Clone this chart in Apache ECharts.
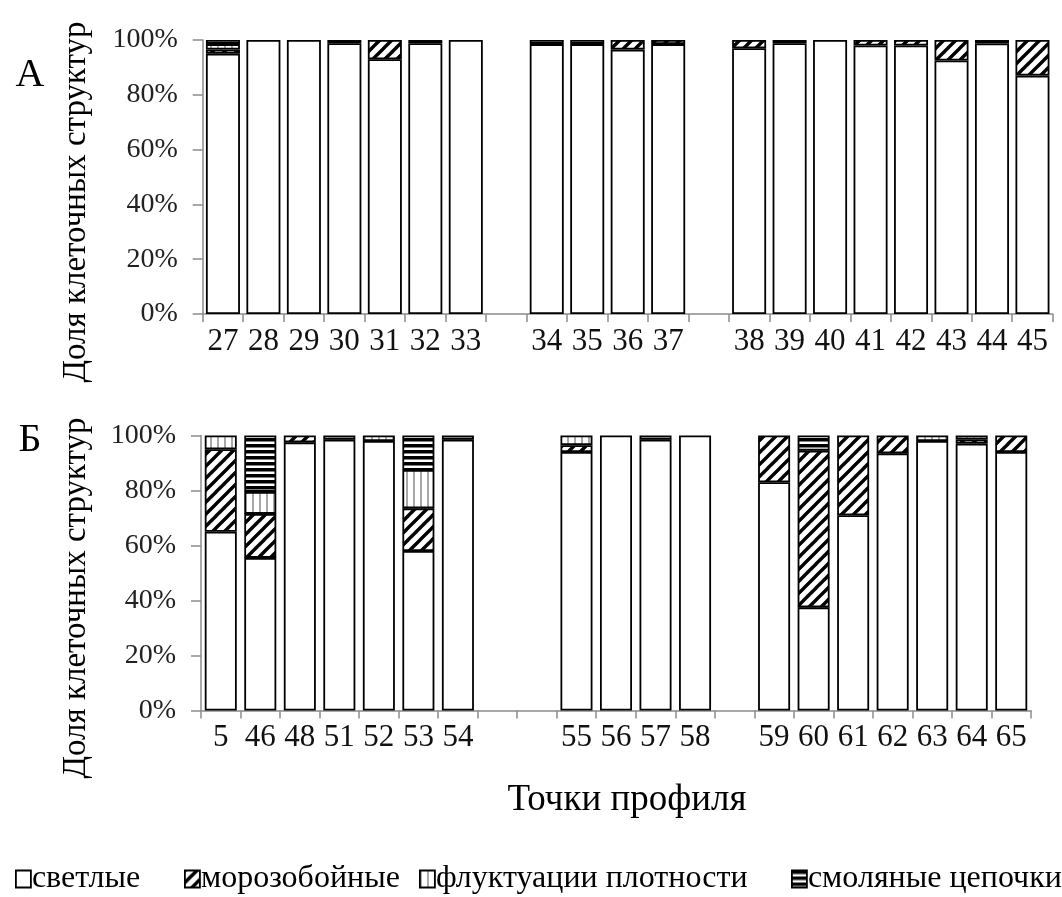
<!DOCTYPE html>
<html>
<head>
<meta charset="utf-8">
<script src="https://cdn.jsdelivr.net/npm/echarts@6/dist/echarts.min.js"></script>
<style>
  html, body { margin: 0; padding: 0; background: #fff; }
  #chart { width: 1062px; height: 897px; }
</style>
</head>
<body>
<div id="chart"></div>
<script>
// Profile points (blank entries are spacer slots between profile segments)
const catsA = ['27', '28', '29', '30', '31', '32', '33', ' ', '34', '35', '36', '37', '  ', '38', '39', '40', '41', '42', '43', '44', '45'];
const catsB = ['5', '46', '48', '51', '52', '53', '54', ' ', '  ', '55', '56', '57', '58', '   ', '59', '60', '61', '62', '63', '64', '65'];

// Shares of cell structures, % (null = spacer slot)
const lightA  = [95, 100, 100, 98.8, 93, 98.8, 100, null, 98.5, 98.5, 96.5, 98.5, null, 97, 98.8, 100, 98, 98, 92.5, 98.7, 87];
const frostA  = [1.5, 0, 0, 0, 7, 0, 0, null, 0, 0, 3.5, 1.5, null, 3, 0, 0, 2, 2, 7.5, 0, 13];
const densA   = [2, 0, 0, 0, 0, 0, 0, null, 0, 0, 0, 0, null, 0, 0, 0, 0, 0, 0, 0, 0];
const resinA  = [1.5, 0, 0, 1.2, 0, 1.2, 0, null, 1.5, 1.5, 0, 0, null, 0, 1.2, 0, 0, 0, 0, 1.3, 0];

const lightB  = [65, 55.5, 97.5, 98.5, 98, 58, 98.5, null, null, 94, 100, 98.5, 100, null, 83, 37.5, 71, 93.5, 98, 97, 94];
const frostB  = [30, 16, 2.5, 0, 0, 15.5, 0, null, null, 2.5, 0, 0, 0, null, 17, 57, 29, 6.5, 0, 1.5, 6];
const densB   = [5, 8, 0, 0, 2, 14, 0, null, null, 3.5, 0, 0, 0, null, 0, 0, 0, 0, 2, 1.5, 0];
const resinB  = [0, 20.5, 0, 1.5, 0, 12.5, 1.5, null, null, 0, 0, 1.5, 0, null, 0, 5.5, 0, 0, 0, 0, 0];

const yTicks = [0, 20, 40, 60, 80, 100];
const seriesNames = ['светлые', 'морозобойные', 'флуктуации плотности', 'смоляные цепочки'];

const SERIF = '"Liberation Serif", "Times New Roman", serif';

// Fill patterns
function makeTile(w, h, draw) {
  const c = document.createElement('canvas');
  c.width = w; c.height = h;
  const ctx = c.getContext('2d');
  ctx.fillStyle = '#fff';
  ctx.fillRect(0, 0, w, h);
  draw(ctx, w, h);
  return { image: c, repeat: 'repeat' };
}
const hatch = makeTile(12, 12, (ctx, w, h) => {
  ctx.strokeStyle = '#000';
  ctx.lineWidth = 3.4;
  ctx.beginPath();
  ctx.moveTo(-2, h + 2); ctx.lineTo(w + 2, -2);
  ctx.moveTo(-2, 2); ctx.lineTo(2, -2);
  ctx.moveTo(w - 2, h + 2); ctx.lineTo(w + 2, h - 2);
  ctx.stroke();
});
const vlines = makeTile(7, 7, (ctx, w, h) => {
  ctx.fillStyle = '#a8a8a8';
  ctx.fillRect(0, 0, 2, h);
});
const hlines = makeTile(6, 6, (ctx, w, h) => {
  ctx.fillStyle = '#000';
  ctx.fillRect(0, 0, w, 3.5);
});
const fills = ['#ffffff', hatch, vlines, hlines];

const nz = arr => arr.map(v => (v ? v : null));

function panelSeries(idx, stack, values) {
  return values.map((vals, i) => ({
    name: seriesNames[i],
    type: 'bar',
    stack: stack,
    xAxisIndex: idx,
    yAxisIndex: idx,
    barCategoryGap: idx === 0 ? '16%' : '19%',
    data: nz(vals),
    itemStyle: { color: fills[i], borderColor: '#000', borderWidth: 1.8 },
    emphasis: { disabled: true },
    animation: false
  }));
}

const axisGray = '#8c8c8c';
function xAxisFor(idx, cats) {
  return {
    type: 'category',
    gridIndex: idx,
    data: cats,
    axisLine: { lineStyle: { color: axisGray, width: 1.5 } },
    axisTick: { show: true, length: 8, lineStyle: { color: axisGray, width: 1.5 } },
    axisLabel: { color: '#111', fontFamily: SERIF, fontSize: 31, margin: 12, interval: 0 }
  };
}
function yAxisFor(idx) {
  return {
    type: 'value',
    gridIndex: idx,
    min: yTicks[0],
    max: yTicks[yTicks.length - 1],
    interval: yTicks[1] - yTicks[0],
    axisLine: { show: true, lineStyle: { color: axisGray, width: 1.5 } },
    axisTick: { show: true, length: 10, lineStyle: { color: axisGray, width: 1.5 } },
    axisLabel: { color: '#222', fontFamily: SERIF, fontSize: 28, margin: 25, formatter: '{value}%' },
    splitLine: { show: false }
  };
}

function legendAt(name, left) {
  return {
    data: [name],
    left: left,
    top: 858,
    icon: 'rect',
    itemWidth: 15,
    itemHeight: 17,
    itemStyle: { borderColor: '#000', borderWidth: 1.8 },
    textStyle: { color: '#000', fontFamily: SERIF, fontSize: 32, padding: [0, 0, 0, -4] },
    selectedMode: false
  };
}

const chart = echarts.init(document.getElementById('chart'), null, { renderer: 'canvas' });
chart.setOption({
  backgroundColor: '#fff',
  animation: false,
  grid: [
    { left: 202.7, top: 40, width: 850, height: 274 },
    { left: 201, top: 435.5, width: 830, height: 275 }
  ],
  xAxis: [xAxisFor(0, catsA), xAxisFor(1, catsB)],
  yAxis: [yAxisFor(0), yAxisFor(1)],
  legend: [
    legendAt(seriesNames[0], 10),
    legendAt(seriesNames[1], 179),
    legendAt(seriesNames[2], 414),
    legendAt(seriesNames[3], 786)
  ],
  graphic: [
    { type: 'text', x: 30, y: 75, style: { text: 'А', font: '40px ' + SERIF, fill: '#000', align: 'center', verticalAlign: 'middle' } },
    { type: 'text', x: 30, y: 440, style: { text: 'Б', font: '40px ' + SERIF, fill: '#000', align: 'center', verticalAlign: 'middle' } },
    { type: 'text', x: 76, y: 202, rotation: Math.PI / 2, style: { text: 'Доля клеточных структур', font: '33px ' + SERIF, fill: '#000', align: 'center', verticalAlign: 'middle' } },
    { type: 'text', x: 76, y: 598, rotation: Math.PI / 2, style: { text: 'Доля клеточных структур', font: '33px ' + SERIF, fill: '#000', align: 'center', verticalAlign: 'middle' } },
    { type: 'text', x: 627, y: 800, style: { text: 'Точки профиля', font: '37px ' + SERIF, fill: '#000', align: 'center', verticalAlign: 'middle' } }
  ],
  series: [
    ...panelSeries(0, 'A', [lightA, frostA, densA, resinA]),
    ...panelSeries(1, 'B', [lightB, frostB, densB, resinB])
  ]
});
</script>
</body>
</html>
